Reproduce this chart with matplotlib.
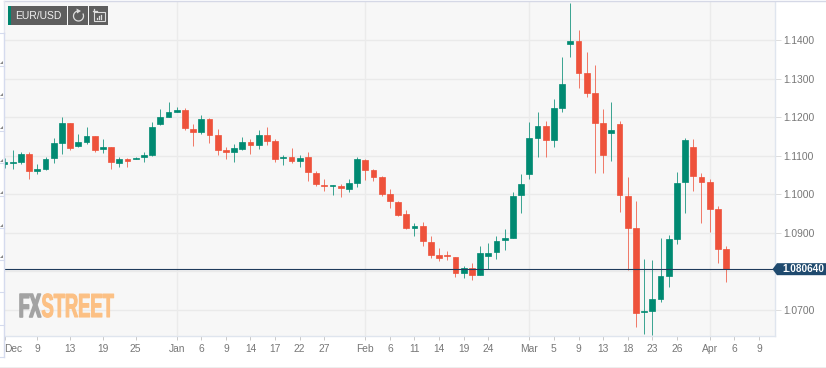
import matplotlib
matplotlib.use("Agg")
import matplotlib.pyplot as plt
from matplotlib.patches import Polygon, Rectangle, Arc
from matplotlib.patheffects import AbstractPathEffect
from matplotlib.transforms import Affine2D

plt.rcParams['font.family'] = ['Liberation Sans', 'DejaVu Sans']

# top of body, bottom of body, high, low, direction (1 = up / green, 0 = down / red)
tops = [1.1083,1.1084,1.1104,1.1104,1.1066,1.1093,1.1133,1.1184,1.1184,1.1135,
        1.1152,1.1152,1.1123,1.1123,1.1092,1.1092,1.1095,1.1101,1.1175,1.1202,
        1.1215,1.1219,1.1218,1.1171,1.1195,1.1195,1.1154,1.1114,1.1121,1.1135,
        1.1135,1.1153,1.1153,1.1138,1.1098,1.1097,1.1095,1.1096,1.1055,1.1025,
        1.1024,1.1022,1.1029,1.1092,1.1090,1.1064,1.1045,1.1001,1.0981,1.0949,
        1.0919,1.0919,1.0876,1.0842,1.0842,1.0837,1.0810,1.0810,1.0847,1.0848,
        1.0880,1.0887,1.0997,1.1027,1.1146,1.1178,1.1178,1.1223,1.1286,1.1399,
        1.1399,1.1315,1.1262,1.1184,1.1166,1.1182,1.0997,1.0913,1.0697,1.0728,
        1.0789,1.0884,1.1030,1.1140,1.1122,1.1046,1.1033,1.0962,1.0858]
bottoms = [1.1078,1.1081,1.1084,1.1060,1.1060,1.1066,1.1095,1.1134,1.1121,1.1125,
           1.1137,1.1116,1.1117,1.1083,1.1082,1.1087,1.1092,1.1096,1.1102,1.1183,
           1.1202,1.1215,1.1172,1.1161,1.1161,1.1155,1.1115,1.1110,1.1110,1.1117,
           1.1128,1.1128,1.1138,1.1091,1.1095,1.1086,1.1086,1.1057,1.1028,1.1021,
           1.1021,1.1016,1.1015,1.1030,1.1064,1.1046,1.1002,1.0983,1.0946,1.0912,
           1.0912,1.0878,1.0844,1.0834,1.0839,1.0797,1.0797,1.0791,1.0791,1.0841,
           1.0850,1.0881,1.0888,1.0998,1.1054,1.1147,1.1141,1.1141,1.1224,1.1390,
           1.1316,1.1264,1.1185,1.1103,1.1160,1.0998,1.0914,1.0693,1.0694,1.0697,
           1.0728,1.0789,1.0884,1.1031,1.1047,1.1033,1.0963,1.0858,1.0806]
highs = [1.1094,1.1116,1.1109,1.1111,1.1079,1.1098,1.1146,1.1200,1.1185,1.1158,
         1.1174,1.1152,1.1144,1.1124,1.1098,1.1094,1.1096,1.1109,1.1189,1.1221,
         1.1240,1.1226,1.1225,1.1182,1.1207,1.1197,1.1169,1.1123,1.1130,1.1149,
         1.1145,1.1166,1.1174,1.1143,1.1103,1.1120,1.1101,1.1110,1.1062,1.1040,
         1.1025,1.1028,1.1040,1.1097,1.1091,1.1066,1.1047,1.1014,1.0984,1.0959,
         1.0926,1.0928,1.0891,1.0862,1.0853,1.0838,1.0814,1.0822,1.0866,1.0873,
         1.0891,1.0909,1.1007,1.1053,1.1187,1.1215,1.1190,1.1248,1.1356,1.1496,
         1.1427,1.1369,1.1336,1.1222,1.1239,1.1190,1.1046,1.0983,1.0832,1.0829,
         1.0888,1.0895,1.1059,1.1147,1.1143,1.1055,1.1039,1.0969,1.0866]
lows = [1.1068,1.1067,1.1080,1.1041,1.1053,1.1063,1.1081,1.1105,1.1114,1.1123,
        1.1131,1.1111,1.1107,1.1067,1.1072,1.1070,1.1091,1.1084,1.1100,1.1181,
        1.1200,1.1213,1.1166,1.1126,1.1158,1.1134,1.1102,1.1093,1.1085,1.1116,
        1.1104,1.1119,1.1128,1.1085,1.1076,1.1081,1.1071,1.1036,1.1021,1.1010,
        1.0999,1.0993,1.1007,1.1018,1.1037,1.1034,1.0995,1.0965,1.0944,1.0910,
        1.0893,1.0867,1.0835,1.0828,1.0831,1.0786,1.0783,1.0778,1.0790,1.0807,
        1.0833,1.0855,1.0886,1.0951,1.1039,1.1097,1.1097,1.1122,1.1213,1.1357,
        1.1276,1.1252,1.1056,1.1056,1.1086,1.0955,1.0803,1.0656,1.0639,1.0636,
        1.0722,1.0761,1.0871,1.0952,1.1010,1.0927,1.0903,1.0822,1.0772]
green_up = [1,1,1,0,1,1,1,1,0,1,1,0,1,0,1,0,1,1,1,1,1,1,0,0,1,0,0,0,1,1,
            0,1,0,0,1,0,1,0,0,0,1,0,1,1,0,0,0,0,0,0,1,0,0,0,0,0,1,0,1,1,
            1,1,1,1,1,1,0,1,1,1,0,0,0,0,1,0,0,0,1,1,1,1,1,1,0,0,0,0,0]

x_tick_pos = [0,4,8,12,16,21,24,27,30,33,36,39,44,47,50,53,56,59,64,67,70,73,76,79,82,86,89,92]
x_tick_labels = ['Dec','9','13','19','25','Jan','6','9','14','17','22','27','Feb','6','11',
                 '14','19','24','Mar','5','9','13','18','23','26','Apr','6','9']
month_pos = [21,44,64,86]
y_ticks = [1.07,1.08,1.09,1.10,1.11,1.12,1.13,1.14]
y_labels = ['1.0700','','1.0900','1.1000','1.1100','1.1200','1.1300','1.1400']
last_price_label = '1.080640'
pair_label = 'EUR/USD'

W, H = 826, 368
GREEN, RED = '#008a72', '#ee523b'
GREY = '#777777'


class Condense(AbstractPathEffect):
    """Squeeze a real text object horizontally about a pixel anchor."""
    def __init__(self, sx, anchor_px, stroke=1.0):
        super().__init__()
        self.sx, self.anchor_px, self.stroke = sx, anchor_px, stroke

    def draw_path(self, renderer, gc, tpath, affine, rgbFace=None):
        squeeze = Affine2D().translate(-self.anchor_px, 0).scale(self.sx, 1).translate(self.anchor_px, 0)
        gc2 = renderer.new_gc()
        gc2.copy_properties(gc)
        gc2.set_foreground(rgbFace)
        gc2.set_linewidth(self.stroke)
        renderer.draw_path(gc2, tpath, affine + squeeze, rgbFace)
        gc2.restore()


fig = plt.figure(figsize=(W/100, H/100), dpi=100, facecolor='white')
ax = fig.add_axes([4.5/W, 1-336/H, (775-4.5)/W, (336-2)/H], facecolor='#f7f7f7')
ax.set_xlim(0, (775-4.5)/8.2)
ax.set_ylim(1.07-26/3860, 1.14+38.3/3860)

for s in ['top', 'left']:
    ax.spines[s].set_visible(False)
for s in ['bottom', 'right']:
    ax.spines[s].set_color('#dfe5ee')
    ax.spines[s].set_linewidth(1)

ax.yaxis.tick_right()
ax.set_yticks(y_ticks)
ax.set_yticklabels(y_labels, fontsize=7.4, color=GREY)
ax.set_xticks(x_tick_pos)
ax.set_xticklabels(x_tick_labels, fontsize=7.4, color=GREY)
ax.get_xticklabels()[0].set_ha('left')
ax.tick_params(axis='x', length=3, width=0.7, color='#c8c8c8', pad=2.5)
ax.tick_params(axis='y', length=4, width=0.7, color='#dddddd', pad=2)
ax.yaxis.grid(True, color='#eaeaea', lw=1)
for m in month_pos:
    ax.axvline(m, color='#ebebeb', lw=1, zorder=1)
ax.set_axisbelow(True)

for i in range(len(tops)):
    col = GREEN if green_up[i] else RED
    ax.vlines(i, lows[i], highs[i], color=col, lw=0.72, alpha=0.75, zorder=3)
    ax.bar(i, tops[i]-bottoms[i], bottom=bottoms[i], width=0.72, color=col,
           edgecolor=col, linewidth=0.5, alpha=1, zorder=4)

ax.axhline(bottoms[-1], color='#1f3b5c', lw=0.8, zorder=6)

# overlay in pixel coordinates for page furniture
ov = fig.add_axes([0, 0, 1, 1], zorder=5, facecolor='none')
ov.set_xlim(0, W)
ov.set_ylim(H, 0)
ov.axis('off')

# outer frame bits
ov.plot([4, 826], [1.3, 1.3], color='#d5d8e6', lw=1)
ov.plot([4, 4], [1, 33], color='#e4e6f0', lw=1)
ov.plot([4, 4], [33, 357], color='#d5dbee', lw=1)
ov.add_patch(Rectangle((0, 366.5), W, 2, color='#eeeeee', lw=0))
for yy in [33, 66, 98, 131, 163, 196, 228, 260, 292, 325, 357]:
    ov.plot([0, 4], [yy, yy], color='#d5dbee', lw=0.8)
for yy in [62, 94, 127, 160, 192, 225, 256]:
    ov.add_patch(Polygon([(0, yy+2), (3.2, yy+2), (3.2, yy-1.5)], color='#888888', lw=0))

# last price tag
px_y = H - ax.transData.transform((0, bottoms[-1]))[1]
ov.add_patch(Polygon([(772.5, px_y), (777, px_y-6), (826, px_y-6), (826, px_y+6), (777, px_y+6)],
                     color='#1f4a6e', lw=0))
ov.text(803, px_y+0.2, last_price_label, color='white', fontsize=7.2, fontweight='bold',
        ha='center', va='center')

# toolbar
ov.add_patch(Rectangle((8, 6), 3.3, 19, color='#00866f', lw=0))
ov.add_patch(Rectangle((11.3, 6), 55.7, 19, color='#5e5e5e', lw=0))
ov.add_patch(Rectangle((68, 6), 20, 19, color='#5e5e5e', lw=0))
ov.add_patch(Rectangle((89, 6), 19, 19, color='#5e5e5e', lw=0))
ov.text(38.5, 15.8, pair_label, color='#f2f2f2', fontsize=7.5, ha='center', va='center')
ov.add_patch(Arc((78.5, 16), 10, 10, theta1=-30, theta2=280, color='#dddddd', lw=0.9))
ov.add_patch(Polygon([(76.5, 8.5), (81, 11), (77, 13.5)], color='#dddddd', lw=0))
ov.add_patch(Rectangle((93.5, 12), 11, 8.5, fill=False, edgecolor='#dddddd', lw=0.8))
ov.plot([92.5, 96.5], [10.5, 10.5], color='#dddddd', lw=0.9)
ov.plot([93.5, 93.5], [9, 12], color='#dddddd', lw=0.9)
for bx, by in [(96.8, 17.5), (99, 15.5), (101.3, 14.5)]:
    ov.plot([bx, bx], [by, 19], color='#dddddd', lw=0.9)

# watermark logo: real text, squeezed horizontally by a path effect
ov.text(41, 317, 'FX', color='#a3a3a3', fontsize=24, fontweight='bold',
        ha='right', va='baseline', path_effects=[Condense(0.52, 41, 1.2)])
ov.text(41.5, 317, 'STREET', color='#fcc084', fontsize=24, fontweight='bold',
        ha='left', va='baseline', path_effects=[Condense(0.55, 41.5, 0.8)])

fig.savefig('out.png', dpi=100, facecolor='white')
